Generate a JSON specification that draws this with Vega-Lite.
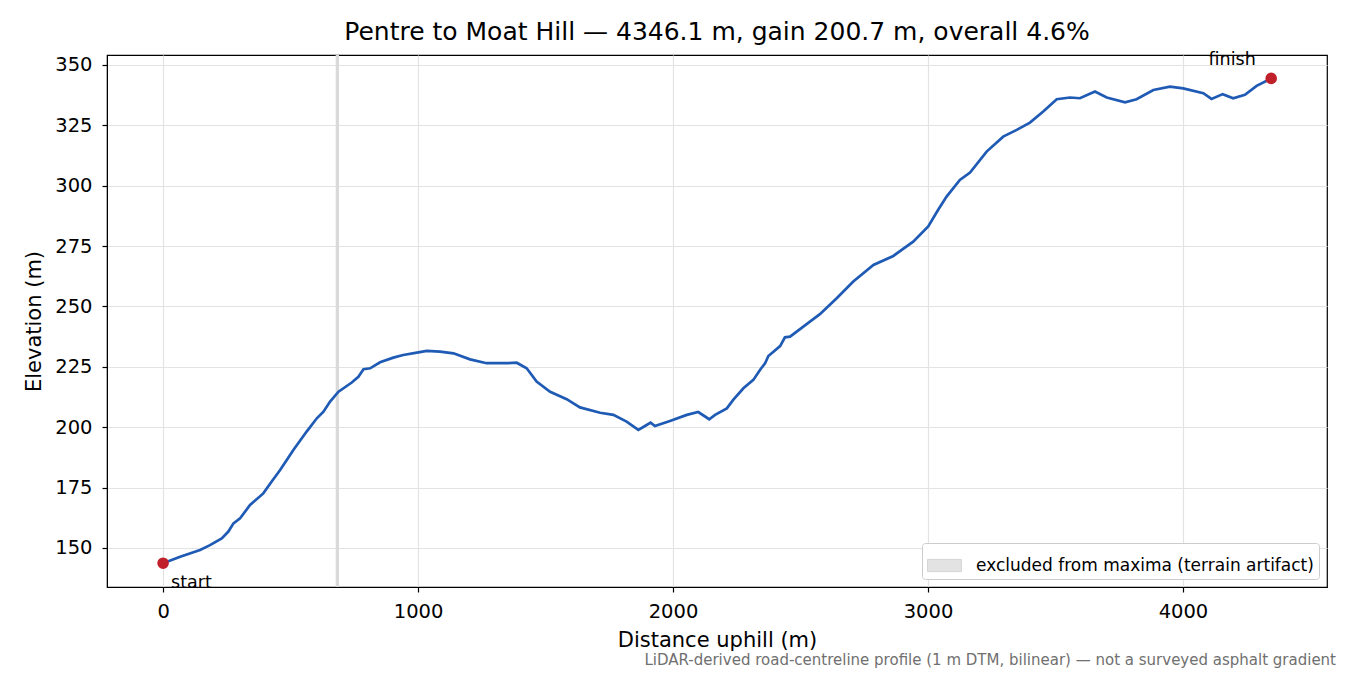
{
  "$schema": "https://vega.github.io/schema/vega-lite/v6.json",
  "width": 1220,
  "height": 532,
  "autosize": {"type": "none"},
  "padding": {"left": 107, "top": 55, "right": 23, "bottom": 88},
  "background": "white",
  "title": {
    "text": "Pentre to Moat Hill — 4346.1 m, gain 200.7 m, overall 4.6%",
    "fontSize": 25,
    "fontWeight": "normal",
    "font": "DejaVu Sans",
    "color": "black",
    "anchor": "middle",
    "offset": 6
  },
  "config": {
    "font": "DejaVu Sans",
    "view": {"stroke": "black", "strokeWidth": 1.2},
    "axis": {
      "labelFont": "DejaVu Sans",
      "titleFont": "DejaVu Sans",
      "labelFontSize": 19.5,
      "titleFontSize": 21,
      "titleFontWeight": "normal",
      "labelColor": "black",
      "titleColor": "black",
      "domainColor": "black",
      "tickColor": "black",
      "tickSize": 5,
      "tickWidth": 1.2,
      "gridColor": "#e3e3e3",
      "gridWidth": 1.2
    },
    "legend": {
      "labelFont": "DejaVu Sans",
      "labelFontSize": 17,
      "labelColor": "black",
      "labelLimit": 0
    }
  },
  "datasets": {
    "profile": [
      {"d": 0, "elev": 143.7},
      {"d": 67, "elev": 146.4},
      {"d": 145, "elev": 149.2},
      {"d": 184, "elev": 151.2},
      {"d": 230, "elev": 154.0},
      {"d": 256, "elev": 156.8},
      {"d": 276, "elev": 160.2},
      {"d": 302, "elev": 162.3},
      {"d": 341, "elev": 167.8},
      {"d": 393, "elev": 172.6},
      {"d": 426, "elev": 177.5},
      {"d": 459, "elev": 182.3},
      {"d": 498, "elev": 188.5},
      {"d": 511, "elev": 190.6},
      {"d": 563, "elev": 198.2},
      {"d": 603, "elev": 203.7},
      {"d": 629, "elev": 206.4},
      {"d": 655, "elev": 210.6},
      {"d": 688, "elev": 214.7},
      {"d": 740, "elev": 218.5},
      {"d": 766, "elev": 220.9},
      {"d": 786, "elev": 224.0},
      {"d": 812, "elev": 224.4},
      {"d": 851, "elev": 226.9},
      {"d": 903, "elev": 228.8},
      {"d": 942, "elev": 229.9},
      {"d": 1001, "elev": 231.0},
      {"d": 1034, "elev": 231.6},
      {"d": 1086, "elev": 231.3},
      {"d": 1139, "elev": 230.6},
      {"d": 1204, "elev": 228.1},
      {"d": 1269, "elev": 226.5},
      {"d": 1348, "elev": 226.5},
      {"d": 1387, "elev": 226.7},
      {"d": 1426, "elev": 224.4},
      {"d": 1465, "elev": 218.9},
      {"d": 1518, "elev": 214.7},
      {"d": 1583, "elev": 211.6},
      {"d": 1635, "elev": 208.2},
      {"d": 1714, "elev": 206.0},
      {"d": 1766, "elev": 205.1},
      {"d": 1818, "elev": 202.3},
      {"d": 1864, "elev": 198.9},
      {"d": 1890, "elev": 200.5},
      {"d": 1912, "elev": 201.9},
      {"d": 1929, "elev": 200.5},
      {"d": 1988, "elev": 202.6},
      {"d": 2054, "elev": 205.1},
      {"d": 2099, "elev": 206.3},
      {"d": 2142, "elev": 203.3},
      {"d": 2165, "elev": 205.1},
      {"d": 2211, "elev": 207.8},
      {"d": 2236, "elev": 211.3},
      {"d": 2276, "elev": 216.1},
      {"d": 2315, "elev": 219.6},
      {"d": 2341, "elev": 223.7},
      {"d": 2361, "elev": 226.5},
      {"d": 2374, "elev": 229.5},
      {"d": 2420, "elev": 233.6},
      {"d": 2439, "elev": 237.2},
      {"d": 2459, "elev": 237.5},
      {"d": 2537, "elev": 243.7},
      {"d": 2576, "elev": 246.8},
      {"d": 2642, "elev": 253.4},
      {"d": 2707, "elev": 260.3},
      {"d": 2786, "elev": 267.2},
      {"d": 2864, "elev": 270.9},
      {"d": 2942, "elev": 276.8},
      {"d": 3001, "elev": 283.1},
      {"d": 3040, "elev": 290.0},
      {"d": 3073, "elev": 295.5},
      {"d": 3125, "elev": 302.4},
      {"d": 3165, "elev": 305.4},
      {"d": 3230, "elev": 314.1},
      {"d": 3295, "elev": 320.3},
      {"d": 3348, "elev": 323.1},
      {"d": 3400, "elev": 326.1},
      {"d": 3452, "elev": 330.7},
      {"d": 3505, "elev": 335.8},
      {"d": 3557, "elev": 336.5},
      {"d": 3596, "elev": 336.2},
      {"d": 3655, "elev": 339.0},
      {"d": 3701, "elev": 336.5},
      {"d": 3773, "elev": 334.5},
      {"d": 3818, "elev": 335.8},
      {"d": 3884, "elev": 339.6},
      {"d": 3949, "elev": 341.0},
      {"d": 4001, "elev": 340.3},
      {"d": 4080, "elev": 338.3},
      {"d": 4112, "elev": 335.9},
      {"d": 4156, "elev": 337.9},
      {"d": 4197, "elev": 336.2},
      {"d": 4243, "elev": 337.6},
      {"d": 4289, "elev": 341.3},
      {"d": 4346.1, "elev": 344.4}
    ],
    "band": [
      {"from": 677, "to": 690, "label": "excluded from maxima (terrain artifact)"}
    ],
    "ends": [
      {"d": 0, "elev": 143.7, "label": "start"},
      {"d": 4346.1, "elev": 344.4, "label": "finish"}
    ],
    "note": [
      {"text": "LiDAR-derived road-centreline profile (1 m DTM, bilinear) — not a surveyed asphalt gradient"}
    ]
  },
  "layer": [
    {
      "data": {"name": "band"},
      "mark": {"type": "rect", "opacity": 1},
      "encoding": {
        "x": {
          "field": "from",
          "type": "quantitative",
          "scale": {"domain": [-220, 4565], "nice": false, "zero": false},
          "axis": {
            "title": "Distance uphill (m)",
            "values": [0, 1000, 2000, 3000, 4000],
            "format": "d",
            "labelPadding": 10,
            "titlePadding": 9,
            "grid": true
          }
        },
        "x2": {"field": "to"},
        "color": {
          "field": "label",
          "type": "nominal",
          "scale": {"range": ["#dadada"]},
          "legend": {
            "title": null,
            "orient": "bottom-right",
            "offset": 8,
            "padding": 5,
            "fillColor": "white",
            "strokeColor": "#cccccc",
            "cornerRadius": 3,
            "symbolType": "M-1,-0.36H1V0.36H-1Z",
            "symbolSize": 1150,
            "symbolStrokeColor": "#c8c8c8",
            "symbolStrokeWidth": 1,
            "symbolOpacity": 0.75,
            "labelOffset": 14
          }
        }
      }
    },
    {
      "data": {"name": "profile"},
      "mark": {"type": "line", "color": "#1f5bb4", "strokeWidth": 2.7, "interpolate": "linear"},
      "encoding": {
        "x": {"field": "d", "type": "quantitative"},
        "y": {
          "field": "elev",
          "type": "quantitative",
          "scale": {"domain": [133.85, 354.1], "nice": false, "zero": false},
          "axis": {
            "title": "Elevation (m)",
            "values": [150, 175, 200, 225, 250, 275, 300, 325, 350],
            "labelPadding": 10,
            "titlePadding": 10,
            "grid": true
          }
        }
      }
    },
    {
      "data": {"name": "ends"},
      "mark": {"type": "point", "filled": true, "color": "#c0202a", "size": 135, "opacity": 1},
      "encoding": {
        "x": {"field": "d", "type": "quantitative"},
        "y": {"field": "elev", "type": "quantitative"}
      }
    },
    {
      "data": {"name": "ends"},
      "transform": [{"filter": "datum.label === 'start'"}],
      "mark": {"type": "text", "align": "left", "baseline": "top", "dx": 8, "dy": 11, "fontSize": 17.5, "color": "black"},
      "encoding": {
        "x": {"field": "d", "type": "quantitative"},
        "y": {"field": "elev", "type": "quantitative"},
        "text": {"field": "label"}
      }
    },
    {
      "data": {"name": "ends"},
      "transform": [{"filter": "datum.label === 'finish'"}],
      "mark": {"type": "text", "align": "center", "baseline": "alphabetic", "dx": -39, "dy": -13, "fontSize": 17.5, "color": "black"},
      "encoding": {
        "x": {"field": "d", "type": "quantitative"},
        "y": {"field": "elev", "type": "quantitative"},
        "text": {"field": "label"}
      }
    },
    {
      "data": {"name": "note"},
      "mark": {"type": "text", "align": "right", "baseline": "alphabetic", "dx": 9, "dy": 78, "fontSize": 15, "color": "#707070"},
      "encoding": {
        "x": {"datum": 4565, "type": "quantitative"},
        "y": {"datum": 133.85, "type": "quantitative"},
        "text": {"field": "text"}
      }
    }
  ]
}
